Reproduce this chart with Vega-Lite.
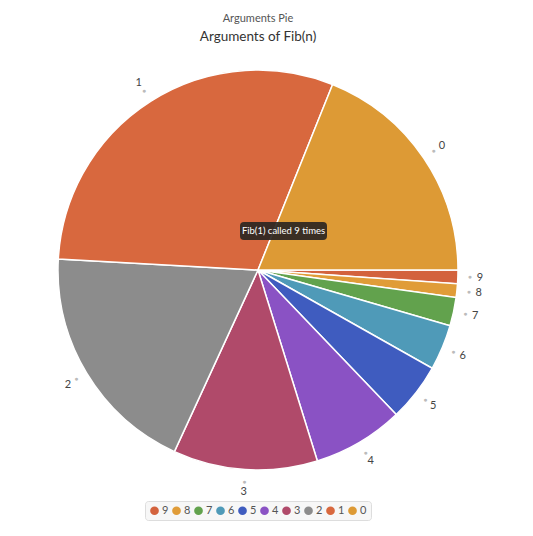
{
  "$schema": "https://vega.github.io/schema/vega-lite/v6.json",
  "autosize": "none",
  "width": 516,
  "height": 400,
  "padding": {"left": 0, "top": 70, "right": 17, "bottom": 66},
  "background": "white",
  "title": {
    "text": "Arguments Pie",
    "subtitle": "Arguments of Fib(n)",
    "anchor": "middle",
    "font": "Lato",
    "fontSize": 11,
    "fontWeight": "normal",
    "color": "#555555",
    "subtitleFont": "Lato",
    "subtitleFontSize": 13.5,
    "subtitleColor": "#333333",
    "subtitlePadding": 6,
    "offset": 24
  },
  "layer": [
    {
      "data": {
        "values": [
          {"n": "9", "calls": 1.2, "ord": 0},
          {"n": "8", "calls": 1.2, "ord": 1},
          {"n": "7", "calls": 2.5, "ord": 2},
          {"n": "6", "calls": 4.0, "ord": 3},
          {"n": "5", "calls": 5.1, "ord": 4},
          {"n": "4", "calls": 8.0, "ord": 5},
          {"n": "3", "calls": 12.7, "ord": 6},
          {"n": "2", "calls": 20.7, "ord": 7},
          {"n": "1", "calls": 32.9, "ord": 8},
          {"n": "0", "calls": 20.6, "ord": 9}
        ]
      },
      "encoding": {
        "theta": {"field": "calls", "type": "quantitative", "stack": true, "scale": {"range": [1.5708, 7.854]}},
        "order": {"field": "ord", "type": "quantitative"}
      },
      "layer": [
        {
          "mark": {"type": "arc", "outerRadius": 200, "stroke": "white", "strokeWidth": 1.5},
          "encoding": {
            "color": {
              "field": "n",
              "type": "nominal",
              "scale": {
                "domain": ["9", "8", "7", "6", "5", "4", "3", "2", "1", "0"],
                "range": ["#d3623d", "#e09c38", "#62a24d", "#4f9ab8", "#3f5cbf", "#8a52c4", "#b04a6a", "#8c8c8c", "#d8683e", "#dd9a35"]
              },
              "legend": {
                "title": null,
                "orient": "bottom",
                "direction": "horizontal",
                "symbolType": "circle",
                "symbolSize": 75,
                "symbolStrokeWidth": 0,
                "labelFont": "Lato",
                "labelFontSize": 11,
                "labelColor": "#555555",
                "labelOffset": 2,
                "columnPadding": 2,
                "fillColor": "#f7f7f7",
                "strokeColor": "#dddddd",
                "cornerRadius": 3,
                "padding": 4,
                "offset": 31
              }
            }
          }
        },
        {
          "mark": {"type": "text", "radius": 212, "text": "●", "fontSize": 7, "color": "#bbbbbb"},
          "encoding": {}
        },
        {
          "mark": {"type": "text", "radius": 222, "font": "Lato", "fontSize": 11, "color": "#444444", "align": "center", "baseline": "middle"},
          "encoding": {"text": {"field": "n"}}
        }
      ]
    },
    {
      "data": {"values": [{"tip": "Fib(1) called 9 times"}]},
      "layer": [
        {
          "mark": {
            "type": "point",
            "shape": "M -0.14 -0.48 L 0.65 -0.48 Q 0.69 -0.48 0.69 -0.44 L 0.69 -0.34 Q 0.69 -0.30 0.65 -0.30 L -0.14 -0.30 Q -0.18 -0.30 -0.18 -0.34 L -0.18 -0.44 Q -0.18 -0.48 -0.14 -0.48 Z",
            "size": 40000,
            "filled": true,
            "color": "#2b2622",
            "opacity": 0.92,
            "strokeWidth": 0
          },
          "encoding": {}
        },
        {
          "mark": {"type": "text", "dx": 25.5, "dy": -39, "color": "white", "font": "Lato", "fontSize": 9.5, "align": "center", "baseline": "middle"},
          "encoding": {"text": {"field": "tip"}}
        }
      ]
    }
  ],
  "config": {
    "view": {"stroke": null},
    "legend": {"layout": {"bottom": {"anchor": "middle"}}}
  }
}
